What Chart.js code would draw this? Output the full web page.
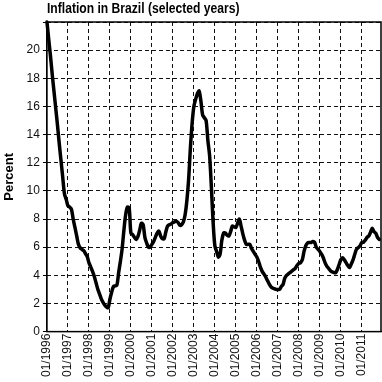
<!DOCTYPE html>
<html>
<head>
<meta charset="utf-8">
<script src="https://cdn.jsdelivr.net/npm/chart.js@4.4.1/dist/chart.umd.min.js"></script>
<style>
  html, body { margin: 0; padding: 0; background: #fff; }
  #wrap { position: relative; width: 382px; height: 382px; }
  #titulo {
    position: absolute; left: 47px; top: 1px;
    font: bold 14px 'Liberation Sans', Arial, sans-serif;
    line-height: 15px; color: #000; white-space: nowrap;
    transform: scaleX(0.865); transform-origin: left top;
  }
</style>
</head>
<body>
<div id="wrap">
  <div id="titulo">Inflation in Brazil (selected years)</div>
  <canvas id="chart" width="382" height="382"></canvas>
</div>
<script>
// Inflación mensual (12 meses), desde 01/1996
const xLabels = ['01/1996', '01/1997', '01/1998', '01/1999', '01/2000', '01/2001', '01/2002', '01/2003',
                 '01/2004', '01/2005', '01/2006', '01/2007', '01/2008', '01/2009', '01/2010', '01/2011'];
const yTicks = [0, 2, 4, 6, 8, 10, 12, 14, 16, 18, 20];

// valores, un valor por mes
const inflation = [
  22.0, 20.8, 19.6, 18.3, 17.1, 15.9, 14.7, 13.4, 12.2, 11.0, 9.8, 9.4,      // 1996
  8.95, 8.85, 8.7, 8.0, 7.4, 6.8, 6.2, 5.95, 5.85, 5.75, 5.55, 5.35,         // 1997
  4.9, 4.6, 4.3, 3.95, 3.5, 3.05, 2.7, 2.35, 2.1, 1.9, 1.75, 1.7,            // 1998
  2.3, 2.8, 3.2, 3.25, 3.3, 4.2, 5.0, 5.9, 7.2, 8.3, 8.85, 8.8,              // 1999
  7.0, 6.9, 6.7, 6.55, 6.75, 7.2, 7.7, 7.6, 6.7, 6.3, 6.0, 6.0,              // 2000
  6.2, 6.4, 6.7, 7.0, 7.15, 6.8, 6.6, 6.6, 7.1, 7.5, 7.6, 7.65,              // 2001
  7.75, 7.8, 7.85, 7.75, 7.55, 7.6, 7.8, 8.3, 9.3, 10.8, 13.0, 14.8,         // 2002
  16.0, 16.5, 16.9, 17.1, 16.4, 15.4, 15.2, 15.0, 13.6, 12.5, 10.3, 7.8,     // 2003
  6.1, 5.7, 5.3, 5.5, 6.5, 7.0, 7.0, 6.85, 6.8, 7.1, 7.5, 7.45,              // 2004
  7.4, 7.7, 8.0, 7.5, 6.95, 6.5, 6.2, 6.2, 6.2, 5.9, 5.7, 5.5,               // 2005
  5.3, 5.0, 4.6, 4.3, 4.1, 3.9, 3.65, 3.4, 3.2, 3.1, 3.05, 3.0,              // 2006
  3.0, 3.0, 3.2, 3.35, 3.8, 4.0, 4.1, 4.2, 4.3, 4.4, 4.5, 4.7,               // 2007
  4.85, 4.9, 5.1, 5.7, 6.1, 6.3, 6.33, 6.33, 6.4, 6.35, 6.0, 5.85,           // 2008
  5.7, 5.5, 5.25, 4.9, 4.65, 4.5, 4.35, 4.25, 4.2, 4.18, 4.4, 4.75,          // 2009
  5.1, 5.25, 5.1, 4.9, 4.7, 4.55, 4.8, 5.1, 5.5, 5.85, 5.97, 6.1,            // 2010
  6.33, 6.35, 6.5, 6.69, 6.8, 7.05, 7.35, 7.1, 7.0, 6.7, 6.55                // 2011
];

const points = inflation.map((v, i) => ({ x: i, y: v }));

// Dibuja el marco completo alrededor del área del gráfico
const frame = {
  id: 'frame',
  afterDraw(chart) {
    const a = chart.chartArea;
    const ctx = chart.ctx;
    ctx.save();
    ctx.strokeStyle = '#000';
    ctx.lineWidth = 1.5;
    ctx.strokeRect(a.left, a.top, a.right - a.left, a.bottom - a.top);
    ctx.restore();
  }
};

const ctx = document.getElementById('chart').getContext('2d');
new Chart(ctx, {
  type: 'line',
  data: {
    datasets: [{
      data: points,
      borderColor: '#000',
      borderWidth: 3.5,
      pointRadius: 0,
      tension: 0.3,
      borderJoinStyle: 'round',
      borderCapStyle: 'round',
      clip: 4
    }]
  },
  options: {
    responsive: false,
    devicePixelRatio: 1,
    animation: false,
    layout: { padding: { left: 2, right: 1, top: 22, bottom: 3 } },
    plugins: {
      legend: { display: false },
      tooltip: { enabled: false },
      title: { display: false }
    },
    scales: {
      x: {
        type: 'linear',
        min: 0,
        max: 191,
        grid: {
          color: '#111',
          lineWidth: 1,
          tickLength: 0,
          drawTicks: false
        },
        border: { display: true, color: '#000', dash: [4, 3] },
        ticks: {
          stepSize: 12,
          includeBounds: false,
          autoSkip: false,
          maxRotation: 90,
          minRotation: 90,
          padding: 2,
          color: '#111',
          font: { family: "'Liberation Sans', Arial, sans-serif", size: 12 },
          callback: (v) => (v % 12 === 0 && xLabels[v / 12]) ? xLabels[v / 12] : ''
        }
      },
      y: {
        min: 0,
        max: 22,
        grid: {
          color: '#111',
          lineWidth: 1,
          tickLength: 4,
          tickColor: '#000'
        },
        border: { display: true, color: '#000', dash: [4, 3] },
        ticks: {
          stepSize: 2,
          padding: 3,
          color: '#111',
          font: { family: "'Liberation Sans', Arial, sans-serif", size: 12 },
          callback: (v) => yTicks.includes(v) ? String(v) : ''
        },
        title: {
          display: true,
          text: 'Percent',
          color: '#000',
          font: { family: "'Liberation Sans', Arial, sans-serif", size: 13, weight: 'bold' },
          padding: { top: 0, bottom: 6 }
        }
      }
    }
  },
  plugins: [frame]
});
</script>
</body>
</html>
